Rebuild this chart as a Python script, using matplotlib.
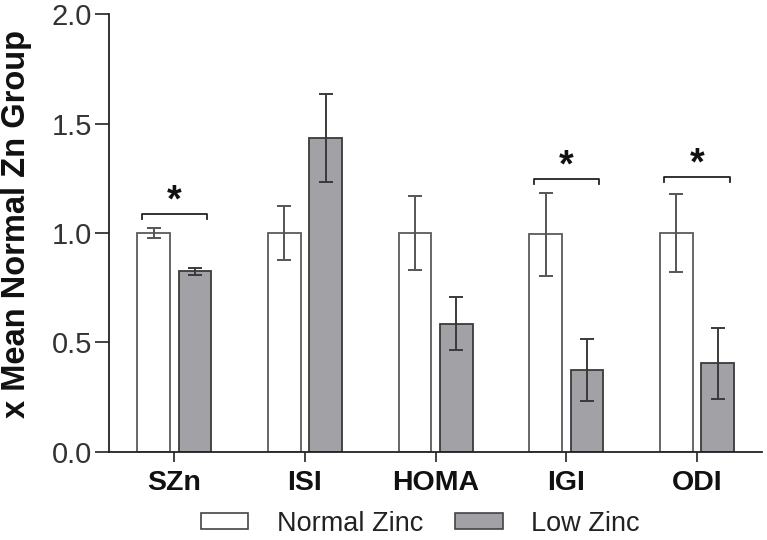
import numpy as np
import matplotlib
matplotlib.use("Agg")
import matplotlib.pyplot as plt
from matplotlib.patches import Patch

plt.rcParams['font.family'] = ['Liberation Sans', 'DejaVu Sans']

categories = ['SZn', 'ISI', 'HOMA', 'IGI', 'ODI']
normal_mean = [1.00, 1.00, 1.00, 0.995, 1.00]
normal_err = [0.025, 0.125, 0.17, 0.19, 0.177]
low_mean = [0.825, 1.435, 0.586, 0.374, 0.405]
low_err = [0.015, 0.20, 0.12, 0.14, 0.163]

# significance brackets: (group index, bracket height, star height)
sig_groups = [0, 3, 4]
sig_bracket_y = [1.085, 1.245, 1.255]
sig_star_y = [1.145, 1.305, 1.315]

fig = plt.figure(figsize=(7.67, 5.4), dpi=100)
ax = fig.add_axes([0.142, 0.163, 0.852, 0.811])

x = np.arange(len(categories))
w = 0.25
off = 0.158

ax.bar(x - off, normal_mean, w, color='white', edgecolor='#5a5a5a', linewidth=1.3, zorder=2)
ax.bar(x + off, low_mean, w, color='#a2a2a6', edgecolor='#3a3a3a', linewidth=1.3, zorder=2)
ax.errorbar(x - off, normal_mean, yerr=normal_err, fmt='none', ecolor='#555555',
            elinewidth=1.4, capsize=5, capthick=1.4, zorder=3)
ax.errorbar(x + off, low_mean, yerr=low_err, fmt='none', ecolor='#3a3a3a',
            elinewidth=1.4, capsize=5, capthick=1.4, zorder=3)

for g, by, sy in zip(sig_groups, sig_bracket_y, sig_star_y):
    x0, x1 = g - 0.25, g + 0.25
    ax.plot([x0, x0, x1, x1], [by - 0.022, by, by, by - 0.022], color='#222222', lw=1.3)
    ax.text(g, sy, '*', ha='center', va='center', fontsize=27, fontweight='bold', color='#111111')

ax.set_xlim(-0.5, 4.5)
ax.set_ylim(0, 2.0)
ax.set_yticks([0.0, 0.5, 1.0, 1.5, 2.0])
ax.set_yticklabels(['0.0', '0.5', '1.0', '1.5', '2.0'], fontsize=21, color='#333333')
ax.set_xticks(x)
ax.set_xticklabels(categories, fontsize=20.5, fontweight='bold', color='#111111')
ax.tick_params(axis='y', length=10, width=1.2, color='#222222', pad=2)
ax.tick_params(axis='x', length=7, width=1.2, color='#222222', pad=6)
for s in ['top', 'right']:
    ax.spines[s].set_visible(False)
for s in ['left', 'bottom']:
    ax.spines[s].set_linewidth(1.3)
    ax.spines[s].set_color('#222222')

ax.set_ylabel('x Mean Normal Zn Group', fontsize=23.5, fontweight='bold', color='#111111')
ax.yaxis.set_label_coords(-0.118, 0.52)

handles = [Patch(facecolor='white', edgecolor='#444444', linewidth=1.2),
           Patch(facecolor='#a2a2a6', edgecolor='#444444', linewidth=1.2)]
fig.legend(handles, ['Normal Zinc', 'Low Zinc'], loc='center', bbox_to_anchor=(0.548, 0.03),
           ncol=2, frameon=False, fontsize=19.5, handlelength=1.75, handleheight=0.5,
           handletextpad=1.05, columnspacing=1.2, labelcolor='#222222')

fig.savefig('out.png', dpi=100)
